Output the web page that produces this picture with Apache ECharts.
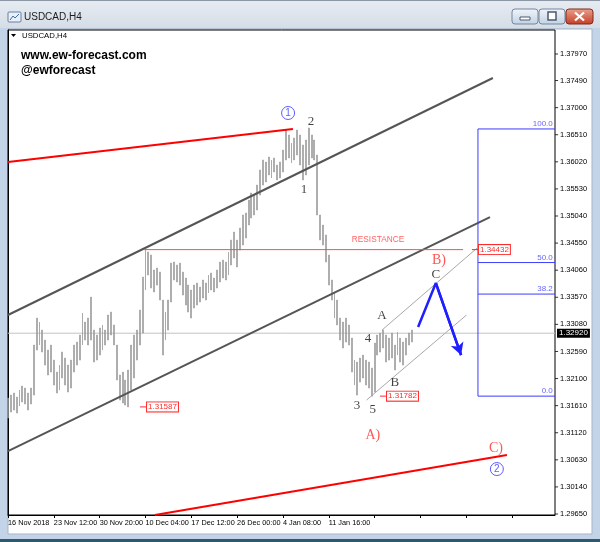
<!DOCTYPE html>
<html><head><meta charset="utf-8">
<script src="https://cdn.jsdelivr.net/npm/echarts@6/dist/echarts.min.js"></script>
<style>html,body{margin:0;padding:0;background:#c3d4e8}#c{width:600px;height:542px}</style>
</head><body><div id="c"></div>
<script>
// ---------- data ----------
const symbolName = 'USDCAD,H4';
const dateLabels = ['16 Nov 2018','23 Nov 12:00','30 Nov 20:00','10 Dec 04:00','17 Dec 12:00','26 Dec 00:00','4 Jan 08:00','11 Jan 16:00'];
const priceTicks = [1.29650,1.30140,1.30630,1.31120,1.31610,1.32100,1.32590,1.33080,1.33570,1.34060,1.34550,1.35040,1.35530,1.36020,1.36510,1.37000,1.37490,1.37970];
const barHighs = [
1.31747,1.31801,1.31838,1.31765,1.31892,1.31964,1.31928,1.31838,1.31928,1.32706,
1.33194,1.33122,1.32977,1.32796,1.32615,1.32706,1.32434,1.32217,1.32344,1.32579,
1.32471,1.32344,1.32434,1.32706,1.32760,1.32887,1.33285,1.33122,1.33194,1.33574,
1.32977,1.32887,1.33013,1.33068,1.32977,1.33249,1.33303,1.33068,1.32706,1.32163,
1.32217,1.32073,1.32254,1.32706,1.32887,1.32977,1.33339,1.33936,1.34432,1.34388,
1.34334,1.34063,1.34099,1.34026,1.33520,1.33303,1.33520,1.34189,1.34207,1.34153,
1.34189,1.34026,1.33918,1.33791,1.33701,1.33791,1.33827,1.33755,1.33882,1.33827,
1.33972,1.34008,1.33918,1.34063,1.34207,1.34243,1.34207,1.34388,1.34605,1.34750,
1.34605,1.34822,1.35058,1.35094,1.35329,1.35456,1.35419,1.35600,1.35872,1.36053,
1.36016,1.36107,1.36053,1.36089,1.35962,1.36016,1.36233,1.36595,1.36505,1.36360,
1.36450,1.36595,1.36505,1.36324,1.36414,1.36631,1.36505,1.36414,1.36143,1.35058,
1.34877,1.34696,1.34334,1.33882,1.33665,1.33520,1.33194,1.33122,1.33194,1.33068,
1.32832,1.32434,1.32398,1.32471,1.32525,1.32434,1.32398,1.32290,1.32742,1.32887,
1.32923,1.32977,1.32887,1.32832,1.32923,1.32706,1.32941,1.32832,1.32760,1.32832,
1.32923,1.32977];
const barLows = [
1.31385,1.31494,1.31530,1.31476,1.31602,1.31675,1.31639,1.31530,1.31639,1.31801,
1.32615,1.32706,1.32579,1.32344,1.32163,1.32217,1.31982,1.31838,1.31892,1.32109,
1.31982,1.31856,1.31928,1.32217,1.32344,1.32434,1.32706,1.32796,1.32706,1.32796,
1.32398,1.32434,1.32525,1.32615,1.32706,1.32796,1.32887,1.32706,1.32073,1.31711,
1.31657,1.31620,1.31587,1.31892,1.32109,1.32434,1.32706,1.32923,1.33701,1.33972,
1.33737,1.33665,1.33791,1.33520,1.32525,1.32796,1.32977,1.33484,1.33882,1.33846,
1.33791,1.33610,1.33429,1.33303,1.33194,1.33375,1.33429,1.33484,1.33556,1.33520,
1.33647,1.33701,1.33665,1.33737,1.33846,1.33918,1.33882,1.33972,1.34153,1.34280,
1.34117,1.34424,1.34515,1.34641,1.34877,1.35003,1.35058,1.35148,1.35419,1.35600,
1.35655,1.35781,1.35727,1.35835,1.35691,1.35727,1.35835,1.36053,1.36089,1.35998,
1.36053,1.36143,1.35962,1.35691,1.35781,1.35962,1.36089,1.36053,1.35058,1.34605,
1.34515,1.34207,1.33791,1.33520,1.33194,1.33068,1.32796,1.32652,1.32760,1.32706,
1.32217,1.31982,1.31801,1.32036,1.32109,1.31982,1.31928,1.31782,1.31856,1.32525,
1.32579,1.32652,1.32398,1.32434,1.32471,1.32254,1.32525,1.32398,1.32344,1.32525,
1.32706,1.32760];
const currentPrice = 1.32920;
const fibLevels = [100.0, 50.0, 38.2, 0.0];
const fibHigh = 1.36614, fibLow = 1.31782, fibStart = 164.1;

// annotation geometry (bar-slot index, price)
const upperChannel = [[0, 1.33249], [169.3, 1.37536]];
const lowerChannel = [[0, 1.30788], [168.3, 1.35021]];
const topRedLine = [[0, 1.36016], [99.5, 1.36613]];
const bottomRedLine = [[51.3, 1.29632], [174.2, 1.30716]];
const resistanceLine = [[47.5, 1.34432], [158.9, 1.34432]];
const wedgeUpper = [[130.6, 1.32977], [163.8, 1.34460]];
const wedgeLower = [[125.2, 1.31711], [160.1, 1.33249]];
const forecastPath = [[143.2, 1.33031], [149.4, 1.33827], [158.2, 1.32525]];
const priceTags = [[162.0, 164.1, 1.34432], [46.1, 48.2, 1.31587], [129.9, 132.0, 1.31782]];
const waveLabels = [['2', 105.8, 1.36740], ['1', 103.4, 1.35510], ['A', 130.6, 1.33230], ['4', 125.7, 1.32814],
  ['B', 135.1, 1.32036], ['3', 121.9, 1.31620], ['5', 127.4, 1.31530], ['C', 149.4, 1.33972]];
const degreeLabels = [['B)', 150.5, 1.34243], ['A)', 127.4, 1.31077], ['C)', 170.4, 1.30842]];
const circledLabels = [['1', 97.8, 1.36903], ['2', 170.7, 1.30463]];
const resistanceText = ['RESISTANCE', 129.2, 1.34605];

// ---------- chart ----------
const N = 192, STEP = 16;
const categories = Array.from({length: N}, (_, i) => 'b' + i);
const chart = echarts.init(document.getElementById('c'), null, {width: 600, height: 542});

function seg(points, color, width, extra) {
  return Object.assign({type: 'line', xAxisIndex: 1, data: points, symbol: 'none', silent: true,
    lineStyle: {color: color, width: width}, z: 3}, extra || {});
}
function labels(items, style) {
  return {type: 'scatter', xAxisIndex: 1, symbolSize: 1, itemStyle: {color: 'transparent'}, silent: true, z: 6,
    data: items.map(t => ({value: [t[1], t[2]], label: {formatter: t[0]}})),
    label: Object.assign({show: true, position: 'inside'}, style)};
}
const RED = '#ff2a2a', BLUE = '#3535ff', FIB = '#3c3cff';
const series = [];
series.push({type: 'candlestick', xAxisIndex: 0, barWidth: 1.4, z: 2,
  data: barLows.map((l, i) => [l, barHighs[i], l, barHighs[i]]),
  itemStyle: {color: '#9a9a9a', color0: '#9a9a9a', borderColor: '#9a9a9a', borderColor0: '#9a9a9a', borderWidth: 0.6}});
series.push(seg([[0, currentPrice], [N - 1, currentPrice]], '#c4c4c4', 1, {z: 1,
  endLabel: {show: true, formatter: currentPrice.toFixed(5), color: '#fff', backgroundColor: '#000',
    padding: [1, 2, 0, 2], fontSize: 8, fontFamily: 'Liberation Sans', distance: 2}}));
series.push(seg(upperChannel, '#555555', 2));
series.push(seg(lowerChannel, '#555555', 2));
series.push(seg(topRedLine, '#ff0000', 2));
series.push(seg(bottomRedLine, '#ff0000', 2));
series.push(seg(resistanceLine, '#ff4d4d', 1));
series.push(seg(wedgeUpper, '#a8a8a8', 1));
series.push(seg(wedgeLower, '#a8a8a8', 1));
priceTags.forEach(t => series.push(seg([[t[0], t[2]], [t[1], t[2]]], RED, 1, {
  endLabel: {show: true, formatter: t[2].toFixed(5), color: RED, backgroundColor: '#fff', borderColor: RED,
    borderWidth: 1, padding: [1, 1, 0, 1], fontSize: 8, fontFamily: 'Liberation Sans', distance: 1}})));
// fibonacci
const fibPrice = lv => fibLow + (fibHigh - fibLow) * lv / 100;
series.push(seg([[fibStart, fibHigh], [fibStart, fibLow]], FIB, 1));
fibLevels.forEach(lv => series.push(seg([[fibStart, fibPrice(lv)], [N - 1, fibPrice(lv)]], FIB, 1)));
series.push({type: 'scatter', xAxisIndex: 1, symbolSize: 1, itemStyle: {color: 'transparent'}, silent: true, z: 6,
  data: fibLevels.map(lv => ({value: [190.4, fibPrice(lv)], label: {formatter: lv.toFixed(1)}})),
  label: {show: true, position: 'left', distance: 0, offset: [0, -5], color: FIB, fontSize: 8, fontFamily: 'Liberation Sans'}});
// forecast arrow
series.push(seg(forecastPath, '#1f1fff', 2.5, {z: 5,
  markLine: {silent: true, symbol: ['none', 'arrow'], symbolSize: [10, 12], label: {show: false},
    lineStyle: {color: '#1f1fff', width: 2.5, type: 'solid'},
    data: [[{coord: forecastPath[1]}, {coord: forecastPath[2]}]]}}));
// price-axis tick marks just outside the right edge
series.push({type: 'scatter', xAxisIndex: 1, clip: false, silent: true, symbol: 'rect', symbolSize: [3, 1], z: 6,
  itemStyle: {color: '#000'}, data: priceTicks.map(p => [N - 1 + 0.55, p])});
// texts
series.push(labels(waveLabels, {color: '#111', fontSize: 13, fontFamily: 'Liberation Serif'}));
series.push(labels(degreeLabels, {color: RED, fontSize: 14, fontFamily: 'Liberation Serif'}));
series.push(labels(circledLabels, {color: BLUE, fontSize: 10, fontFamily: 'Liberation Sans',
  borderColor: BLUE, borderWidth: 1, borderRadius: 7, width: 13, height: 13, lineHeight: 13, align: 'center', padding: 0}));
series.push(labels([resistanceText], {color: '#ff3a3a', fontSize: 8.3, fontFamily: 'Liberation Sans'}));

const btnGrad = () => new echarts.graphic.LinearGradient(0, 0, 0, 1, [{offset: 0, color: '#f1f5fa'}, {offset: 1, color: '#c2d1e3'}]);
const option = {
  animation: false,
  backgroundColor: '#c3d4e8',
  grid: {left: 8, right: 45, top: 30, bottom: 27, show: true, borderColor: '#000', borderWidth: 1, backgroundColor: '#fff'},
  xAxis: [{
    type: 'category', data: categories, boundaryGap: false,
    axisLine: {show: true, lineStyle: {color: '#000'}},
    axisTick: {show: true, length: 3, interval: i => i % STEP === 0, lineStyle: {color: '#000'}},
    axisLabel: {interval: i => i % STEP === 0, formatter: (v, i) => dateLabels[i / STEP] || '',
      align: 'left', fontSize: 7.3, color: '#000', margin: 4, fontFamily: 'Liberation Sans'},
    splitLine: {show: false}
  }, {type: 'value', min: 0, max: N - 1, show: false}],
  yAxis: {
    type: 'value', position: 'right', min: 1.29632, max: 1.38404,
    axisLine: {show: true, lineStyle: {color: '#000'}},
    axisTick: {show: false},
    axisLabel: {customValues: priceTicks, formatter: v => v.toFixed(5), fontSize: 7.5, color: '#000', margin: 5, fontFamily: 'Liberation Sans'},
    splitLine: {show: false}
  },
  series: series,
  graphic: [
    {type: 'rect', z: -30, silent: true, shape: {x: 0, y: 0, width: 600, height: 28},
      style: {fill: new echarts.graphic.LinearGradient(0, 0, 0, 1, [{offset: 0, color: '#e7ecf2'}, {offset: 1, color: '#d5dde7'}])}},
    {type: 'rect', z: -30, silent: true, shape: {x: 0, y: 0, width: 600, height: 1}, style: {fill: '#8b97a5'}},
    {type: 'rect', z: -29, silent: true, shape: {x: 8, y: 29, width: 584, height: 505}, style: {fill: '#fff', stroke: '#a7b4c3', lineWidth: 1}},
    {type: 'rect', z: -29, silent: true, shape: {x: 0, y: 539, width: 600, height: 3}, style: {fill: '#2d5a6e'}},
    // title icon + text
    {type: 'rect', z: 10, silent: true, shape: {x: 8, y: 12, width: 13, height: 10, r: 1}, style: {fill: '#e8f0fa', stroke: '#6a7f9a', lineWidth: 1}},
    {type: 'polyline', z: 11, silent: true, shape: {points: [[10, 20], [13, 16], [15, 18], [19, 14]]}, style: {stroke: '#3f6db0', lineWidth: 1, fill: null}},
    {type: 'text', z: 10, silent: true, x: 24, y: 17, style: {text: symbolName, fill: '#1b1b1b', font: '10px "Liberation Sans"', verticalAlign: 'middle'}},
    // window buttons
    {type: 'rect', z: 10, silent: true, shape: {x: 512, y: 9, width: 26, height: 15, r: 3}, style: {fill: btnGrad(), stroke: '#74879e', lineWidth: 1}},
    {type: 'rect', z: 11, silent: true, shape: {x: 520, y: 17, width: 10, height: 3}, style: {fill: '#fff', stroke: '#4a5b70', lineWidth: 1}},
    {type: 'rect', z: 10, silent: true, shape: {x: 539, y: 9, width: 26, height: 15, r: 3}, style: {fill: btnGrad(), stroke: '#74879e', lineWidth: 1}},
    {type: 'rect', z: 11, silent: true, shape: {x: 548, y: 12, width: 8, height: 8}, style: {fill: '#fff', stroke: '#4a5b70', lineWidth: 1.5}},
    {type: 'rect', z: 10, silent: true, shape: {x: 566, y: 9, width: 27, height: 15, r: 3},
      style: {fill: new echarts.graphic.LinearGradient(0, 0, 0, 1, [{offset: 0, color: '#e9a391'}, {offset: 1, color: '#c43d25'}]), stroke: '#7e2a1d', lineWidth: 1}},
    {type: 'line', z: 11, silent: true, shape: {x1: 575, y1: 12.5, x2: 584, y2: 20.5}, style: {stroke: '#fff', lineWidth: 2.2}},
    {type: 'line', z: 11, silent: true, shape: {x1: 584, y1: 12.5, x2: 575, y2: 20.5}, style: {stroke: '#fff', lineWidth: 2.2}},
    // in-chart texts
    {type: 'polygon', z: 10, silent: true, shape: {points: [[11, 34], [16, 34], [13.5, 37]]}, style: {fill: '#000'}},
    {type: 'text', z: 10, silent: true, x: 22, y: 36, style: {text: symbolName, fill: '#000', font: '7.8px "Liberation Sans"', verticalAlign: 'middle'}},
    {type: 'text', z: 10, silent: true, x: 21, y: 56, style: {text: 'www.ew-forecast.com', fill: '#000', font: 'bold 12px "Liberation Sans"', verticalAlign: 'middle'}},
    {type: 'text', z: 10, silent: true, x: 21, y: 71, style: {text: '@ewforecast', fill: '#000', font: 'bold 12px "Liberation Sans"', verticalAlign: 'middle'}}
  ]
};
chart.setOption(option);
</script></body></html>
